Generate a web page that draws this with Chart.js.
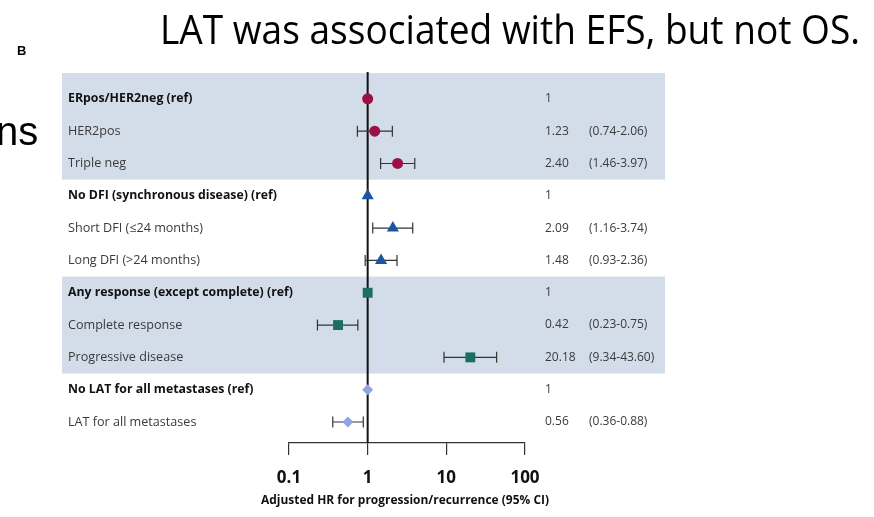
<!DOCTYPE html>
<html>
<head>
<meta charset="utf-8">
<script src="https://cdn.jsdelivr.net/npm/chart.js@4/dist/chart.umd.min.js"></script>
<style>
  html, body { margin: 0; padding: 0; background: #fff; }
  #wrap { position: relative; width: 874px; height: 517px; }
</style>
</head>
<body>
<div id="wrap"><canvas id="forest"></canvas></div>
<script>
// rows of the forest plot, top to bottom
var rowLabels = [
  'ERpos/HER2neg (ref)', 'HER2pos', 'Triple neg',
  'No DFI (synchronous disease) (ref)', 'Short DFI (\u226424 months)', 'Long DFI (>24 months)',
  'Any response (except complete) (ref)', 'Complete response', 'Progressive disease',
  'No LAT for all metastases (ref)', 'LAT for all metastases'
];
var isRef = [true, false, false, true, false, false, true, false, false, true, false];
var hrValues = [1, 1.23, 2.40, 1, 2.09, 1.48, 1, 0.42, 20.18, 1, 0.56];
var ciLow  = [null, 0.74, 1.46, null, 1.16, 0.93, null, 0.23, 9.34, null, 0.36];
var ciHigh = [null, 2.06, 3.97, null, 3.74, 2.36, null, 0.75, 43.60, null, 0.88];
// which rows belong to each group (marker style differs per group)
var groupRows = [[0, 1, 2], [3, 4, 5], [6, 7, 8], [9, 10]];
var groupColors = ['#9b1047', '#1d56a0', '#1c6d63', '#8fa4e2'];
var groupShapes = ['circle', 'triangle', 'rect', 'rectRot'];
var groupSizes = [5.5, 7, 7, 5.5];
var shadedGroups = [0, 2];
var xTicks = [0.1, 1, 10, 100];
var xTitle = 'Adjusted HR for progression/recurrence (95% CI)';

var datasets = groupRows.map(function(rows, g) {
  return {
    label: 'group' + g,
    data: rows.map(function(r) { return { x: hrValues[r], y: r }; }),
    pointStyle: groupShapes[g],
    pointRadius: groupSizes[g],
    pointHoverRadius: groupSizes[g],
    backgroundColor: groupColors[g],
    borderColor: groupColors[g],
    borderWidth: 0
  };
});

var forestPlugin = {
  id: 'forest',
  beforeDraw: function(chart) {
    var ctx = chart.ctx, ys = chart.scales.y;
    ctx.save();
    ctx.fillStyle = '#fff';
    ctx.fillRect(0, 0, chart.width, chart.height);
    // shaded bands
    ctx.fillStyle = '#d3dde9';
    shadedGroups.forEach(function(g) {
      var rows = groupRows[g];
      var top = ys.getPixelForValue(rows[0] - (g === 0 ? 0.8 : 0.5));
      var bot = ys.getPixelForValue(rows[rows.length - 1] + 0.5);
      ctx.fillRect(62, top, 603, bot - top);
    });
    // heading texts
    ctx.fillStyle = '#000';
    ctx.textBaseline = 'alphabetic';
    ctx.font = '41px "Open Sans"';
    ctx.fillText('LAT was associated with EFS, but not OS.', 160, 44, 700);
    ctx.font = 'bold 13px "Liberation Sans"';
    ctx.fillText('B', 17, 55);
    ctx.font = '40px "Liberation Sans"';
    ctx.fillText('ns', -4, 145);
    ctx.restore();
  },
  beforeDatasetsDraw: function(chart) {
    var ctx = chart.ctx, xs = chart.scales.x, ys = chart.scales.y;
    var area = chart.chartArea;
    ctx.save();
    // line of no effect
    var x1 = xs.getPixelForValue(1);
    ctx.strokeStyle = '#111';
    ctx.lineWidth = 2;
    ctx.beginPath();
    ctx.moveTo(x1, area.top - 1);
    ctx.lineTo(x1, area.bottom);
    ctx.stroke();
    // confidence intervals
    ctx.strokeStyle = '#333';
    ctx.lineWidth = 1.2;
    hrValues.forEach(function(v, i) {
      if (ciLow[i] === null) return;
      var y = ys.getPixelForValue(i);
      var a = xs.getPixelForValue(ciLow[i]), b = xs.getPixelForValue(ciHigh[i]);
      ctx.beginPath();
      ctx.moveTo(a, y); ctx.lineTo(b, y);
      ctx.moveTo(a, y - 5.5); ctx.lineTo(a, y + 5.5);
      ctx.moveTo(b, y - 5.5); ctx.lineTo(b, y + 5.5);
      ctx.stroke();
    });
    // row labels and numbers
    ctx.textBaseline = 'middle';
    rowLabels.forEach(function(label, i) {
      var y = ys.getPixelForValue(i);
      ctx.fillStyle = isRef[i] ? '#111' : '#3a3a3a';
      ctx.font = (isRef[i] ? 'bold 12.3px' : '12.6px') + ' "Open Sans"';
      ctx.fillText(label, 68, y);
      ctx.fillStyle = '#3a3a3a';
      ctx.font = '12px "Open Sans"';
      ctx.fillText(isRef[i] ? '1' : hrValues[i].toFixed(2), 545, y);
      if (ciLow[i] !== null) {
        ctx.fillText('(' + ciLow[i].toFixed(2) + '-' + ciHigh[i].toFixed(2) + ')', 589, y);
      }
    });
    ctx.restore();
  },
  afterDraw: function(chart) {
    // axis title drawn here so it may be wider than the axis itself
    var ctx = chart.ctx;
    ctx.save();
    ctx.fillStyle = '#111';
    ctx.font = 'bold 12.5px "Open Sans"';
    ctx.textAlign = 'center';
    ctx.textBaseline = 'middle';
    ctx.fillText(xTitle, 405, 500, 288);
    ctx.restore();
  }
};

new Chart(document.getElementById('forest'), {
  type: 'scatter',
  data: { datasets: datasets },
  plugins: [forestPlugin],
  options: {
    responsive: true,
    maintainAspectRatio: false,
    animation: false,
    events: [],
    layout: { padding: { left: 289, right: 349, top: 73, bottom: 0 } },
    plugins: { legend: { display: false }, tooltip: { enabled: false } },
    scales: {
      x: {
        type: 'logarithmic',
        min: 0.1,
        max: 100,
        afterBuildTicks: function(scale) {
          scale.ticks = xTicks.map(function(v) { return { value: v, major: true }; });
        },
        afterFit: function(scale) { scale.height = 74; },
        ticks: {
          autoSkip: false,
          maxRotation: 0,
          padding: 13,
          color: '#111',
          font: { family: 'Open Sans', size: 17, weight: 'bold' },
          callback: function(v) { return String(v); }
        },
        grid: { drawOnChartArea: false, drawTicks: true, tickLength: 12, color: '#333', lineWidth: 1.2 },
        border: { display: true, color: '#333', width: 1.2 },
        title: { display: false }
      },
      y: {
        type: 'linear',
        reverse: true,
        min: -0.8,
        max: 10.65,
        display: false
      }
    }
  }
});
</script>
</body>
</html>
